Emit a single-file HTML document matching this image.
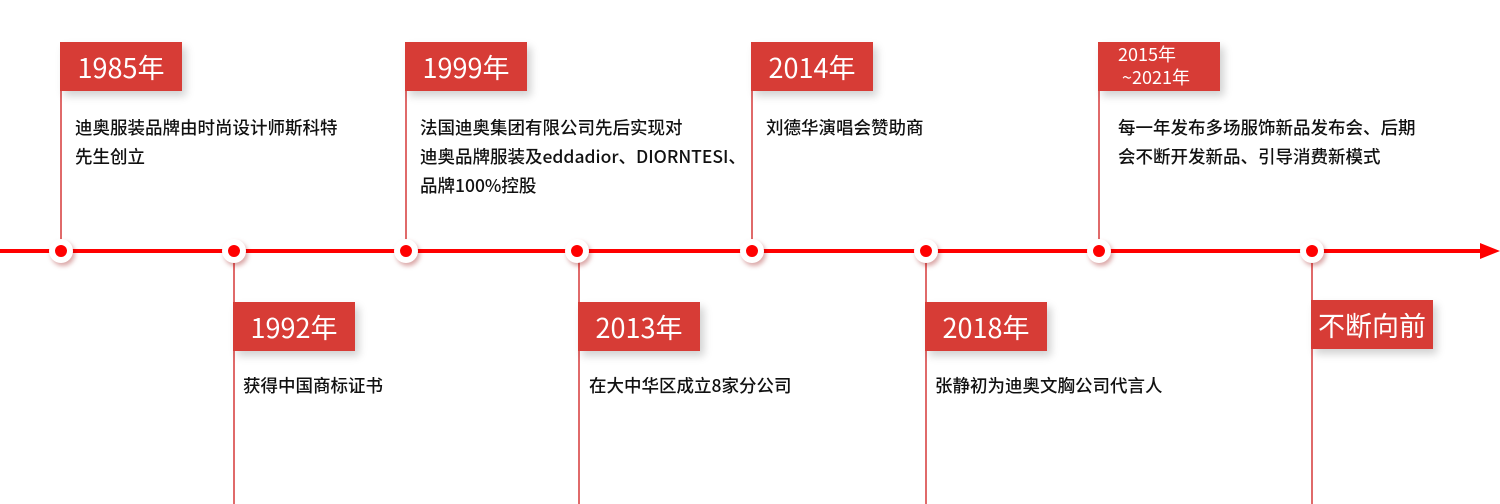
<!DOCTYPE html>
<html><head><meta charset="utf-8"><style>
body{margin:0;width:1500px;height:504px;background:#fff;position:relative;overflow:hidden;font-family:"Liberation Sans","Noto Sans CJK SC",sans-serif}
.hl{position:absolute;left:0;top:249px;width:1485px;height:4px;background:#f00}
.arrow{position:absolute;left:1480px;top:243px;width:0;height:0;border-left:20px solid #f00;border-top:8px solid transparent;border-bottom:8px solid transparent}
.v{position:absolute;width:2px;background:#e06a6a}
.dot{position:absolute;top:239px;width:24px;height:24px;border-radius:50%;background:#fff;box-shadow:2px 3px 5px rgba(150,0,0,.35)}
.dot:after{content:"";position:absolute;left:6px;top:6px;width:12px;height:12px;border-radius:50%;background:#f00}
.box{position:absolute;width:122px;height:49px;background:#d73c36;color:#fff;font-size:27px;line-height:49px;text-align:center;box-shadow:4px 5px 8px rgba(0,0,0,.18);font-family:"Noto Sans CJK SC",sans-serif;font-weight:400}
.t{position:absolute;font-size:17.5px;line-height:29px;color:#111;font-family:"Noto Sans CJK SC",sans-serif;font-weight:500;white-space:nowrap}
</style></head><body>
<div class="v" style="left:60px;top:42px;height:210px"></div>
<div class="v" style="left:405px;top:42px;height:210px"></div>
<div class="v" style="left:751px;top:42px;height:210px"></div>
<div class="v" style="left:1098px;top:42px;height:210px"></div>
<div class="v" style="left:233px;top:250px;height:254px"></div>
<div class="v" style="left:578px;top:250px;height:254px"></div>
<div class="v" style="left:925px;top:250px;height:254px"></div>
<div class="v" style="left:1311px;top:250px;height:254px"></div>
<div class="hl"></div><div class="arrow"></div>
<div class="dot" style="left:49px"></div>
<div class="dot" style="left:222px"></div>
<div class="dot" style="left:394px"></div>
<div class="dot" style="left:565px"></div>
<div class="dot" style="left:740px"></div>
<div class="dot" style="left:914px"></div>
<div class="dot" style="left:1087px"></div>
<div class="dot" style="left:1300px"></div>
<div class="box" style="left:60px;top:42px">1985年</div>
<div class="box" style="left:405px;top:42px">1999年</div>
<div class="box" style="left:751px;top:42px">2014年</div>
<div class="box" style="left:1098px;top:42px;font-size:18px;line-height:23px;padding-top:1px;height:48px;text-align:left"><span style="padding-left:20px">2015年</span><br><span style="padding-left:24px">~2021年</span></div>
<div class="box" style="left:233px;top:302px">1992年</div>
<div class="box" style="left:578px;top:302px">2013年</div>
<div class="box" style="left:925px;top:302px">2018年</div>
<div class="box" style="left:1311px;top:300px">不断向前</div>
<div class="t" style="left:75px;top:113px">迪奥服装品牌由时尚设计师斯科特<br>先生创立</div>
<div class="t" style="left:420px;top:113px">法国迪奥集团有限公司先后实现对<br>迪奥品牌服装及eddadior、DIORNTESI、<br>品牌100%控股</div>
<div class="t" style="left:766px;top:113px">刘德华演唱会赞助商</div>
<div class="t" style="left:1118px;top:113px">每一年发布多场服饰新品发布会、后期<br>会不断开发新品、引导消费新模式</div>
<div class="t" style="left:243px;top:371px">获得中国商标证书</div>
<div class="t" style="left:589px;top:371px">在大中华区成立8家分公司</div>
<div class="t" style="left:935px;top:371px">张静初为迪奥文胸公司代言人</div>
</body></html>
